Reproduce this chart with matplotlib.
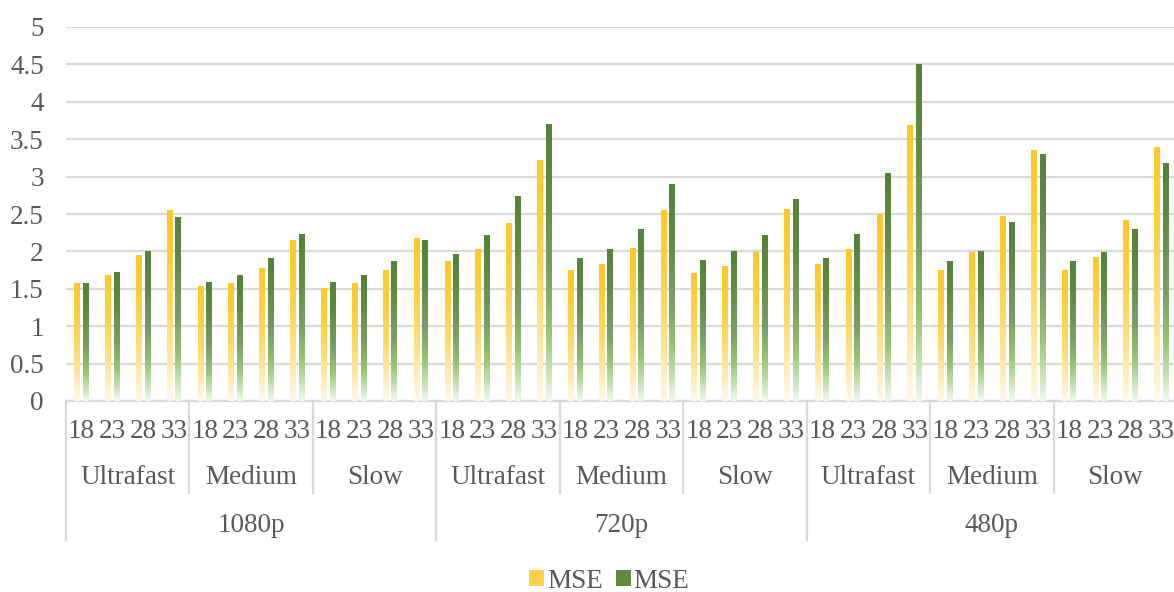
import numpy as np
import matplotlib
matplotlib.use("Agg")
import matplotlib.pyplot as plt
from matplotlib.colors import LinearSegmentedColormap
from matplotlib.patches import Patch
import matplotlib.transforms as mtransforms

# Данные
resolutions = ["1080p", "720p", "480p"]
presets = ["Ultrafast", "Medium", "Slow"]
qps = ["18", "23", "28", "33"]

mse_yellow = [1.57, 1.68, 1.94, 2.55,  1.53, 1.57, 1.77, 2.14,  1.51, 1.57, 1.74, 2.17,
              1.86, 2.02, 2.37, 3.21,  1.74, 1.82, 2.04, 2.55,  1.70, 1.80, 1.98, 2.56,
              1.82, 2.02, 2.50, 3.68,  1.74, 1.98, 2.47, 3.35,  1.74, 1.92, 2.41, 3.39]
mse_green = [1.57, 1.72, 2.00, 2.45,  1.59, 1.68, 1.90, 2.23,  1.59, 1.68, 1.86, 2.14,
             1.96, 2.21, 2.74, 3.70,  1.90, 2.02, 2.29, 2.90,  1.88, 2.00, 2.21, 2.70,
             1.90, 2.23, 3.04, 4.50,  1.86, 2.00, 2.39, 3.29,  1.86, 1.98, 2.29, 3.18]

text_color = "#595959"
grid_color = "#D9D9D9"
fs = 19.5
plt.rcParams["font.family"] = ["Liberation Serif", "DejaVu Serif"]

# Градиенты как в Excel: сверху насыщенный цвет, внизу почти белый
cmap_yellow = LinearSegmentedColormap.from_list("y", [
    (0.0, "#fffaee"), (0.2, "#ffeab0"), (0.45, "#ffda6a"), (0.75, "#ffcd3c"), (1.0, "#ffc72a")])
cmap_green = LinearSegmentedColormap.from_list("g", [
    (0.0, "#f3f9ef"), (0.12, "#c3e0b0"), (0.25, "#98c673"), (0.45, "#7c9f66"),
    (0.75, "#628b46"), (1.0, "#558236")])

fig = plt.figure(figsize=(11.74, 5.92), dpi=100)
ax = fig.add_axes([66 / 1174, 191 / 592, 1111 / 1174, 374 / 592])

n = len(mse_yellow)
x = np.arange(n)
width = 0.19
offset = 0.14
grad = np.linspace(0, 1, 256).reshape(-1, 1)

for xi, h in zip(x - offset, mse_yellow):
    ax.imshow(grad, cmap=cmap_yellow, origin="lower", aspect="auto",
              extent=[xi - width / 2, xi + width / 2, 0, h], zorder=3)
for xi, h in zip(x + offset, mse_green):
    ax.imshow(grad, cmap=cmap_green, origin="lower", aspect="auto",
              extent=[xi - width / 2, xi + width / 2, 0, h], zorder=3)

ax.set_xlim(-0.5, n - 0.5)
ax.set_ylim(0, 5)
ax.set_yticks(np.arange(0, 5.01, 0.5))
ax.set_yticklabels(["0", "0.5", "1", "1.5", "2", "2.5", "3", "3.5", "4", "4.5", "5"])
ax.grid(axis="y", color=grid_color, linewidth=1.6, zorder=0)
ax.set_axisbelow(True)
ax.tick_params(axis="y", length=0, pad=16, labelsize=fs, labelcolor=text_color)
ax.set_xticks([])
for s in ["top", "right", "left"]:
    ax.spines[s].set_visible(False)
ax.spines["bottom"].set_color(grid_color)
ax.spines["bottom"].set_linewidth(1.6)

# Многоуровневые подписи оси X
trans = mtransforms.blended_transform_factory(ax.transData, ax.transAxes)
y_qp = -31 / 374
y_preset = -77 / 374
y_res = -124 / 374
y_sep1 = -92 / 374
y_sep2 = -139 / 374

for i in range(n):
    ax.text(x[i], y_qp, qps[i % 4], transform=trans, ha="center", va="center",
            fontsize=fs, color=text_color)

for g in range(len(resolutions) * len(presets)):
    ax.text(g * 4 + 1.5, y_preset, presets[g % 3], transform=trans, ha="center",
            va="center", fontsize=fs, color=text_color)

for r, name in enumerate(resolutions):
    ax.text(r * 12 + 5.5, y_res, name, transform=trans, ha="center", va="center",
            fontsize=fs, color=text_color)

for g in range(10):
    bottom = y_sep2 if g % 3 == 0 else y_sep1
    ax.plot([g * 4 - 0.5, g * 4 - 0.5], [0, bottom], transform=trans, color=grid_color,
            linewidth=1.6, clip_on=False)

handles = [Patch(facecolor="#ffcf45", label="MSE"), Patch(facecolor="#5f8a42", label="MSE")]
fig.legend(handles=handles, loc="center", bbox_to_anchor=(0.519, 0.018), ncol=2,
           frameon=False, fontsize=fs, handlelength=0.55, handleheight=0.55,
           handletextpad=0.1, columnspacing=0.5, labelcolor=text_color)

fig.savefig("out.png", dpi=100)
